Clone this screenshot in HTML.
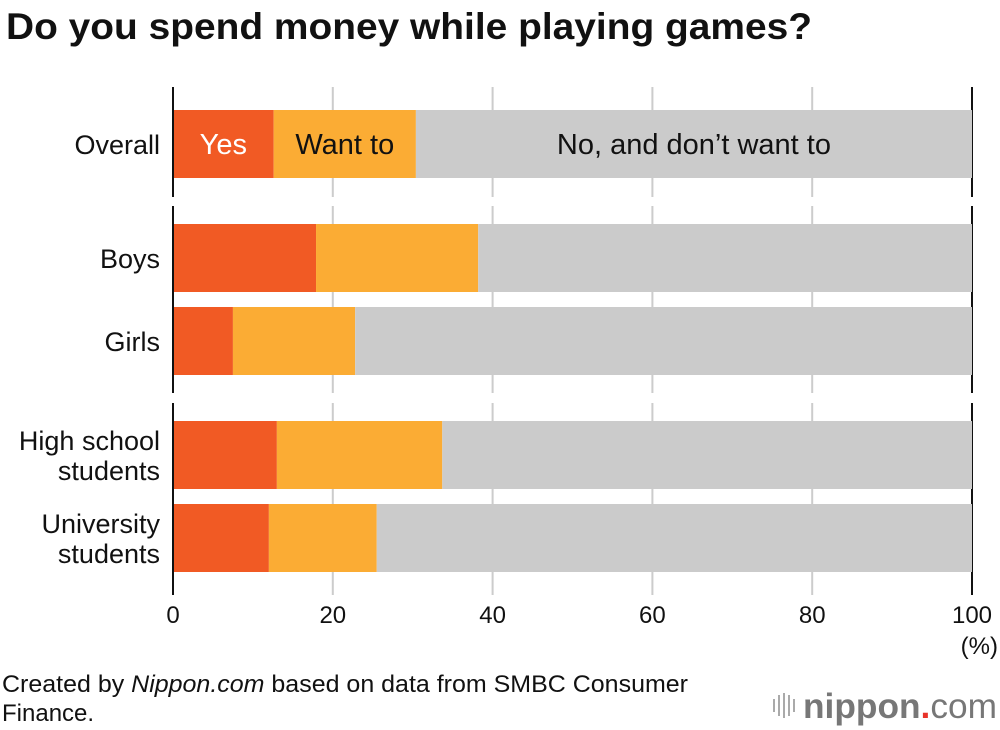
<!DOCTYPE html>
<html><head><meta charset="utf-8"><style>
body{margin:0;background:#fff;width:1000px;height:730px;overflow:hidden;font-family:"Liberation Sans",Arial,sans-serif}
svg{position:absolute;left:0;top:0}
</style></head><body>
<svg id="c" width="1000" height="730">
<text x="6" y="39" font-size="37" font-weight="bold" fill="#111" textLength="806" lengthAdjust="spacingAndGlyphs">Do you spend money while playing games?</text>
<text x="2" y="692" font-size="24" fill="#111" textLength="686" lengthAdjust="spacingAndGlyphs">Created by <tspan font-style="italic">Nippon.com</tspan> based on data from SMBC Consumer</text>
<text x="2" y="721" font-size="24" fill="#111">Finance.</text>
<g>
<g fill="#aaa"><rect x="773" y="699" width="2" height="13"/><rect x="778" y="695" width="2" height="21"/><rect x="783" y="693" width="2" height="25"/><rect x="788" y="695" width="2" height="21"/><rect x="793" y="699" width="2" height="13"/></g>
<text x="803" y="718" font-size="35" font-weight="bold" fill="#777" textLength="194" lengthAdjust="spacingAndGlyphs">nippon<tspan fill="#e8332a">.</tspan><tspan font-weight="normal">com</tspan></text>
</g>
</svg>
<script>
const categories=["Overall","Boys","Girls","High school|students","University|students"];
const yesVals=[12.6,17.9,7.5,13.0,12.0];
const wantVals=[17.8,20.3,15.3,20.7,13.5];
const ticks=[0,20,40,60,80,100];
const barTops=[110,224,307,421,504];
const groups=[[87,197],[206,393],[403,595]];
const svg=document.getElementById('c');
const NS='http://www.w3.org/2000/svg';
const x0=173,x1=972;
const xs=v=>x0+(x1-x0)*v/100;
function el(t,a,p){const e=document.createElementNS(NS,t);for(const k in a)e.setAttribute(k,a[k]);(p||svg).appendChild(e);return e;}
ticks.forEach(t=>{
  groups.forEach(g=>{
    const l=el('line',{x1:xs(t),x2:xs(t),y1:g[0],y2:g[1],stroke:(t===0||t===100)?'#111':'#ccc','stroke-width':2});
    
    
  });
  const tx=el('text',{x:xs(t),y:623,'font-size':24,'text-anchor':'middle',fill:'#111'});
  tx.textContent=t;
  
  
});
const pct=el('text',{x:998,y:654,'font-size':24,'text-anchor':'end',fill:'#111'});
pct.textContent='(%)';


categories.forEach((c,i)=>{
  const y=barTops[i],h=68;
  const a=xs(yesVals[i]),b=xs(yesVals[i]+wantVals[i]);
  const r1=el('rect',{x:x0+1,y:y,width:a-x0-1,height:h,fill:'#f15a24'});
  
  
  const r2=el('rect',{x:a,y:y,width:b-a,height:h,fill:'#fbac34'});
  
  
  const r3=el('rect',{x:b,y:y,width:x1-b,height:h,fill:'#cbcbcb'});
  
  
  const lines=c.split('|');
  lines.forEach((ln,j)=>{
    const t=el('text',{x:160,y:y+h/2+10+(j-(lines.length-1)/2)*30,'font-size':27,'text-anchor':'end',fill:'#111'});
    t.textContent=ln;
    
    
  });
  if(i===0){
    [['Yes',(x0+a)/2,'#fff'],['Want to',(a+b)/2,'#111'],['No, and don\u2019t want to',(b+x1)/2,'#111']].forEach(s=>{
      const t=el('text',{x:s[1],y:y+h/2+10,'font-size':29,'text-anchor':'middle',fill:s[2]});
      t.textContent=s[0];
      
      
    });
  }
});
</script>
</body></html>
